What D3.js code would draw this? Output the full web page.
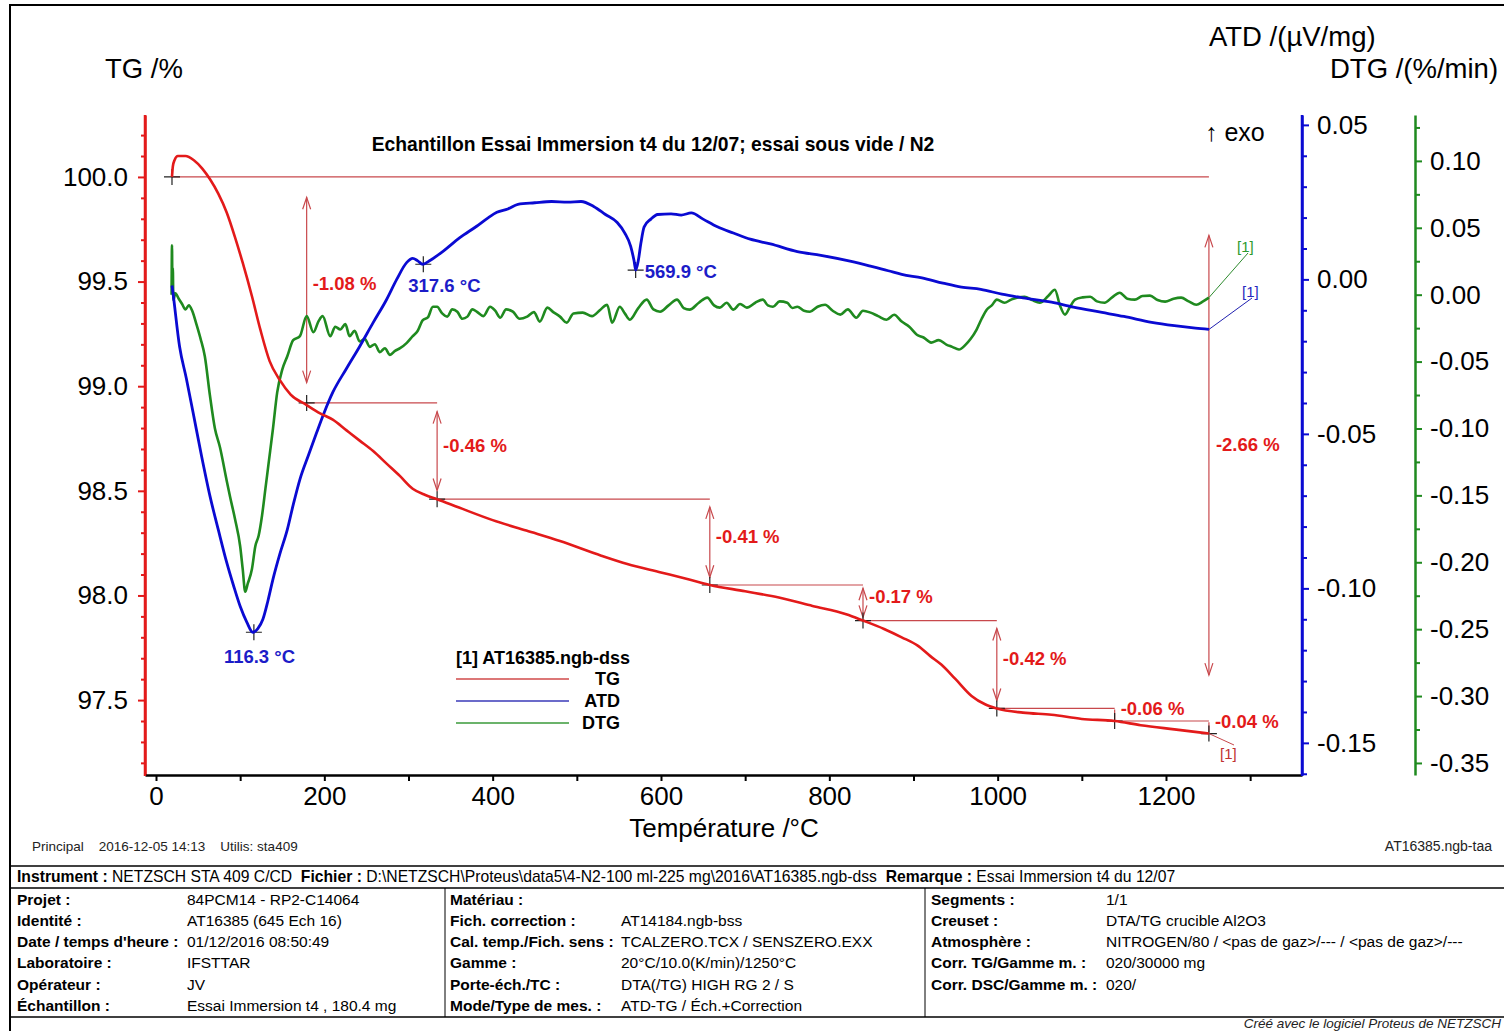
<!DOCTYPE html>
<html><head><meta charset="utf-8">
<script src="https://cdn.jsdelivr.net/npm/d3@7"></script>
<style>
body{margin:0;background:#fff}
svg{display:block}
text{font-family:"Liberation Sans",Arial,Helvetica,sans-serif}
</style></head>
<body><svg id="chart" width="1504" height="1031"></svg>
<script>
// ---------------- DATA ----------------
const tgPoints = [[19,100.00],[20,100.05],[22,100.08],[26,100.10],[35,100.10],[45,100.08],[55,100.04],[64,99.99],[74,99.92],[84,99.83],[94,99.71],[103,99.59],[114,99.43],[124,99.27],[135,99.12],[147,99.03],[160,98.96],[179,98.91],[195,98.87],[210,98.84],[226,98.79],[242,98.74],[258,98.69],[274,98.63],[290,98.57],[305,98.51],[320,98.48],[334,98.46],[360,98.42],[400,98.36],[440,98.31],[480,98.26],[529,98.19],[560,98.15],[600,98.11],[630,98.08],[658,98.05],[700,98.02],[740,97.99],[780,97.95],[820,97.91],[840,97.88],[865,97.84],[886,97.80],[905,97.76],[920,97.71],[933,97.67],[950,97.60],[969,97.52],[985,97.48],[999,97.46],[1030,97.44],[1064,97.43],[1100,97.41],[1139,97.40],[1170,97.38],[1210,97.36],[1251,97.34]];

const atdPoints = [[19,-0.002],[20,-0.004],[28,-0.0217],[36,-0.032],[44,-0.043],[54,-0.057],[64,-0.070],[74,-0.081],[84,-0.0916],[92,-0.099],[100,-0.1058],[108,-0.111],[115,-0.1142],[121,-0.113],[127,-0.110],[133,-0.104],[139,-0.097],[147,-0.089],[156,-0.081],[163,-0.073],[171,-0.0647],[181,-0.057],[191,-0.0495],[200,-0.043],[210,-0.0366],[226,-0.029],[242,-0.0217],[258,-0.014],[274,-0.0065],[286,0.000],[298,0.0055],[305,0.0068],[311,0.006],[317,0.0049],[326,0.0062],[341,0.0091],[361,0.0135],[381,0.0172],[395,0.020],[405,0.0217],[418,0.0228],[430,0.0243],[450,0.0248],[470,0.0252],[489,0.025],[505,0.0252],[520,0.0236],[534,0.021],[548,0.0184],[557,0.015],[564,0.0107],[568,0.006],[570,0.003],[573,0.006],[576,0.0115],[580,0.017],[588,0.0195],[596,0.021],[612,0.0212],[624,0.0208],[636,0.0215],[650,0.0195],[667,0.017],[686,0.015],[706,0.013],[730,0.0115],[762,0.009],[790,0.0078],[826,0.0058],[850,0.0042],[870,0.0028],[886,0.0016],[910,0.0005],[935,-0.0012],[957,-0.0025],[980,-0.0032],[1005,-0.0048],[1030,-0.006],[1064,-0.0074],[1090,-0.009],[1124,-0.0107],[1150,-0.012],[1183,-0.0139],[1210,-0.015],[1235,-0.0158],[1251,-0.0162]];

const dtgPoints = [[18.5,0.000],[19,0.037],[19.5,0.004],[20,0.020],[20.6,-0.004],[23,0.001],[27,-0.003],[31,-0.007],[35,-0.011],[39,-0.008],[43,-0.012],[48,-0.022],[53,-0.033],[58,-0.046],[64,-0.075],[70,-0.100],[76,-0.114],[84,-0.139],[88,-0.151],[94,-0.168],[100,-0.188],[103,-0.205],[106,-0.222],[109,-0.216],[114,-0.205],[118,-0.188],[122,-0.180],[126,-0.165],[130,-0.145],[134,-0.125],[139,-0.100],[144,-0.073],[150,-0.056],[156,-0.046],[163,-0.034],[171,-0.031],[179,-0.016],[187,-0.028],[193,-0.020],[198,-0.016],[207,-0.031],[213,-0.024],[219,-0.026],[225,-0.022],[230,-0.031],[236,-0.027],[242,-0.035],[248,-0.033],[254,-0.039],[260,-0.037],[266,-0.043],[272,-0.040],[278,-0.045],[284,-0.042],[290,-0.040],[298,-0.036],[305,-0.031],[311,-0.027],[317,-0.019],[323,-0.017],[329,-0.009],[334,-0.009],[340,-0.014],[346,-0.0164],[352,-0.011],[358,-0.0127],[364,-0.018],[370,-0.0164],[376,-0.011],[381,-0.0127],[389,-0.016],[397,-0.009],[403,-0.012],[409,-0.0172],[416,-0.011],[424,-0.0127],[432,-0.018],[441,-0.0164],[449,-0.013],[456,-0.0201],[465,-0.0097],[472,-0.013],[480,-0.0164],[488,-0.0209],[496,-0.014],[507,-0.0134],[518,-0.016],[528,-0.0112],[536,-0.0075],[542,-0.0209],[551,-0.009],[557,-0.014],[563,-0.0187],[573,-0.010],[583,-0.0037],[591,-0.011],[599,-0.0127],[609,-0.008],[619,-0.0037],[627,-0.010],[634,-0.0112],[645,-0.006],[655,-0.0022],[663,-0.008],[670,-0.0097],[678,-0.006],[686,-0.0112],[694,-0.007],[702,-0.0097],[712,-0.006],[721,-0.0037],[727,-0.008],[733,-0.009],[741,-0.005],[750,-0.006],[756,-0.010],[762,-0.009],[770,-0.012],[777,-0.0127],[786,-0.009],[795,-0.0075],[804,-0.012],[813,-0.0149],[822,-0.011],[832,-0.0172],[840,-0.012],[849,-0.0134],[858,-0.016],[868,-0.0187],[877,-0.015],[886,-0.0201],[895,-0.024],[904,-0.0299],[912,-0.032],[921,-0.0358],[930,-0.034],[939,-0.0373],[946,-0.039],[954,-0.041],[962,-0.0373],[968,-0.033],[975,-0.0261],[981,-0.018],[987,-0.0112],[993,-0.008],[999,-0.0037],[1008,-0.006],[1016,-0.0037],[1024,-0.002],[1032,-0.0015],[1041,-0.004],[1050,-0.006],[1060,-0.001],[1068,0.0037],[1074,-0.008],[1080,-0.0149],[1086,-0.009],[1092,-0.0037],[1101,-0.002],[1110,-0.0015],[1118,-0.005],[1127,-0.006],[1136,-0.002],[1145,0.0015],[1154,-0.003],[1163,-0.0037],[1172,-0.001],[1181,-0.0007],[1190,-0.004],[1199,-0.0052],[1209,-0.003],[1218,-0.0022],[1227,-0.005],[1236,-0.0075],[1244,-0.005],[1251,-0.0022]];

// TG mass-loss steps
const stepTemps  = [19, 179, 334, 658, 840, 999, 1139, 1251];
const stepLevels = [100.00, 98.92, 98.46, 98.05, 97.88, 97.46, 97.40, 97.34];
const stepLabels = ["-1.08 %", "-0.46 %", "-0.41 %", "-0.17 %", "-0.42 %", "-0.06 %", "-0.04 %"];
const totalLabel = "-2.66 %";

// ATD peaks
const peakTemps  = [116.3, 317.6, 569.9];
const peakValues = [-0.1142, 0.0049, 0.003];
const peakLabels = ["116.3 °C", "317.6 °C", "569.9 °C"];

// axis ticks
const xTicks = [0, 200, 400, 600, 800, 1000, 1200];
const xMinorTicks = [100, 300, 500, 700, 900, 1100, 1300];
const tgTicks = [97.5, 98.0, 98.5, 99.0, 99.5, 100.0];
const atdTicks = [-0.15, -0.10, -0.05, 0.00, 0.05];
const dtgTicks = [-0.35, -0.30, -0.25, -0.20, -0.15, -0.10, -0.05, 0.00, 0.05, 0.10];

const legendItems = ["TG", "ATD", "DTG"];

// info table
const infoRow1 = [["Instrument : ", "NETZSCH STA 409 C/CD"], ["Fichier : ", "D:\\NETZSCH\\Proteus\\data5\\4-N2-100 ml-225 mg\\2016\\AT16385.ngb-dss"], ["Remarque : ", "Essai Immersion t4 du 12/07"]];
const infoCol1 = [["Projet :", "84PCM14 - RP2-C14064"], ["Identité :", "AT16385 (645 Ech 16)"], ["Date / temps d'heure :", "01/12/2016 08:50:49"], ["Laboratoire :", "IFSTTAR"], ["Opérateur :", "JV"], ["Échantillon :", "Essai Immersion t4 , 180.4 mg"]];
const infoCol2 = [["Matériau :", ""], ["Fich. correction :", "AT14184.ngb-bss"], ["Cal. temp./Fich. sens :", "TCALZERO.TCX / SENSZERO.EXX"], ["Gamme :", "20°C/10.0(K/min)/1250°C"], ["Porte-éch./TC :", "DTA(/TG) HIGH RG 2 / S"], ["Mode/Type de mes. :", "ATD-TG / Éch.+Correction"]];
const infoCol3 = [["Segments :", "1/1"], ["Creuset :", "DTA/TG crucible Al2O3"], ["Atmosphère :", "NITROGEN/80 / <pas de gaz>/--- / <pas de gaz>/---"], ["Corr. TG/Gamme m. :", "020/30000 mg"], ["Corr. DSC/Gamme m. :", "020/"]];

// ---------------- DRAW ----------------
const svg = d3.select("#chart");
const RED = "#e31a1a", BLUE = "#0a0ad2", GREEN = "#1f8a1f", ANN = "#c8484c";
const fmt2 = v => d3.format(".2f")(v).replace("−", "-");

const x = d3.scaleLinear().domain([-13.07, 1361.6]).range([145, 1302]);
const yTG = d3.scaleLinear().domain([97.142, 100.296]).range([775, 115]);
const yATD = d3.scaleLinear().domain([-0.1604, 0.0532]).range([775, 115]);
const yDTG = d3.scaleLinear().domain([-0.359, 0.1343]).range([775, 115]);

// frame
svg.append("rect").attr("x", 10).attr("y", 5).attr("width", 1510).attr("height", 1040)
  .attr("fill", "none").attr("stroke", "#000").attr("stroke-width", 2);

// header titles
svg.append("text").attr("x", 105).attr("y", 78).attr("font-size", 27.5).text("TG /%");
svg.append("text").attr("x", 1209).attr("y", 46).attr("font-size", 27.5).text("ATD /(µV/mg)");
svg.append("text").attr("x", 1330).attr("y", 78).attr("font-size", 27.5).text("DTG /(%/min)");
svg.append("text").attr("x", 653).attr("y", 151).attr("text-anchor", "middle")
  .attr("font-size", 19.3).attr("font-weight", "bold")
  .text("Echantillon Essai Immersion t4 du 12/07; essai sous vide / N2");
svg.append("text").attr("x", 1205).attr("y", 141).attr("font-size", 25).text("↑ exo");

// axes
function styleAxis(g, color) {
  g.selectAll("path").attr("stroke", color).attr("stroke-width", 2.5);
  g.selectAll("line").attr("stroke", color).attr("stroke-width", 2);
  g.selectAll("text").attr("fill", "#000").attr("font-size", 26)
    .attr("font-family", '"Liberation Sans",Arial,sans-serif');
}
const gTG = svg.append("g").attr("transform", "translate(145,0)")
  .call(d3.axisLeft(yTG).tickValues(tgTicks).tickFormat(d3.format(".1f")).tickSize(7).tickSizeOuter(0).tickPadding(10));
styleAxis(gTG, RED);
svg.append("g").attr("transform", "translate(145,0)")
  .call(d3.axisLeft(yTG).tickValues(d3.range(97.2, 100.25, 0.1).filter(v => Math.abs(v*2 - Math.round(v*2)) > 0.01))
    .tickFormat("").tickSize(4).tickSizeOuter(0))
  .call(g => { g.select("path").remove(); g.selectAll("line").attr("stroke", RED).attr("stroke-width", 2); });

const gATD = svg.append("g").attr("transform", "translate(1302,0)")
  .call(d3.axisRight(yATD).tickValues(atdTicks).tickFormat(fmt2).tickSize(7).tickSizeOuter(0).tickPadding(8));
styleAxis(gATD, BLUE);
svg.append("g").attr("transform", "translate(1302,0)")
  .call(d3.axisRight(yATD).tickValues(d3.range(-0.16, 0.053, 0.01).filter(v => Math.abs(v*20 - Math.round(v*20)) > 0.01))
    .tickFormat("").tickSize(5).tickSizeOuter(0))
  .call(g => { g.select("path").remove(); g.selectAll("line").attr("stroke", BLUE).attr("stroke-width", 2); });

const gDTG = svg.append("g").attr("transform", "translate(1415,0)")
  .call(d3.axisRight(yDTG).tickValues(dtgTicks).tickFormat(fmt2).tickSize(7).tickSizeOuter(0).tickPadding(8));
styleAxis(gDTG, GREEN);
svg.append("g").attr("transform", "translate(1415,0)")
  .call(d3.axisRight(yDTG).tickValues(d3.range(-0.325, 0.13, 0.05)).tickFormat("").tickSize(5).tickSizeOuter(0))
  .call(g => { g.select("path").remove(); g.selectAll("line").attr("stroke", GREEN).attr("stroke-width", 2); });

const gX = svg.append("g").attr("transform", "translate(0,775)")
  .call(d3.axisBottom(x).tickValues(xTicks).tickFormat(d3.format("d")).tickSize(6).tickSizeOuter(0).tickPadding(6));
styleAxis(gX, "#000");
svg.append("g").attr("transform", "translate(0,775)")
  .call(d3.axisBottom(x).tickValues(xMinorTicks).tickFormat("").tickSize(6).tickSizeOuter(0))
  .call(g => { g.select("path").remove(); g.selectAll("line").attr("stroke", "#000").attr("stroke-width", 2); });
svg.append("text").attr("x", 724).attr("y", 837).attr("text-anchor", "middle").attr("font-size", 26)
  .text("Température /°C");

svg.append("line").attr("x1", 145).attr("x2", 145).attr("y1", 115).attr("y2", 776).attr("stroke", RED).attr("stroke-width", 2.5);
svg.append("line").attr("x1", 1302).attr("x2", 1302).attr("y1", 115).attr("y2", 776).attr("stroke", BLUE).attr("stroke-width", 2.5);

// ---- annotations (TG steps)
const ann = svg.append("g");
function arrow(xp, y1, y2) {
  ann.append("line").attr("x1", xp).attr("x2", xp).attr("y1", y1).attr("y2", y2).attr("stroke", ANN).attr("stroke-width", 1.2);
  if (Math.abs(y2 - y1) < 18) return;
  const dir = y2 > y1 ? 1 : -1;
  [[y1, -dir], [y2, dir]].forEach(([yy, d]) => {
    ann.append("path").attr("d", `M${xp-4},${yy - d*12} L${xp},${yy} L${xp+4},${yy - d*12}`)
      .attr("fill", "none").attr("stroke", ANN).attr("stroke-width", 1.2);
  });
}
function cross(cx, cy) {
  ann.append("path").attr("d", `M${cx-8},${cy} H${cx+8} M${cx},${cy-8} V${cy+8}`)
    .attr("stroke", "#222").attr("stroke-width", 1.2);
}
ann.append("line").attr("x1", x(stepTemps[0])).attr("x2", x(stepTemps[7]))
  .attr("y1", yTG(stepLevels[0])).attr("y2", yTG(stepLevels[0])).attr("stroke", ANN).attr("stroke-width", 1.2);
for (let i = 1; i < stepTemps.length - 1; i++) {
  ann.append("line").attr("x1", x(stepTemps[i])).attr("x2", x(stepTemps[i+1]))
    .attr("y1", yTG(stepLevels[i])).attr("y2", yTG(stepLevels[i])).attr("stroke", ANN).attr("stroke-width", 1.2);
}
for (let i = 1; i < stepTemps.length; i++) {
  const xp = x(stepTemps[i]), ya = yTG(stepLevels[i-1]), yb = yTG(stepLevels[i]);
  const inset = (yb - ya) * 0.09;
  arrow(xp, ya + inset, yb - inset);
  ann.append("text").attr("x", xp + 6).attr("y", (ya + yb) / 2 - 6).attr("dy", "0.35em")
    .attr("font-size", 18.5).attr("font-weight", "bold").attr("fill", RED).text(stepLabels[i-1]);
}
{
  const xp = x(stepTemps[7]), ya = yTG(stepLevels[0]), yb = yTG(stepLevels[7]);
  const inset = (yb - ya) * 0.105;
  arrow(xp, ya + inset, yb - inset);
  ann.append("text").attr("x", xp + 7).attr("y", (ya + yb) / 2 - 11).attr("dy", "0.35em")
    .attr("font-size", 18.5).attr("font-weight", "bold").attr("fill", RED).text(totalLabel);
}

// ---- curves
const lineTG = d3.line().x(d => x(d[0])).y(d => yTG(d[1])).curve(d3.curveMonotoneX);
const lineATD = d3.line().x(d => x(d[0])).y(d => yATD(d[1])).curve(d3.curveMonotoneX);
const lineDTG = d3.line().x(d => x(d[0])).y(d => yDTG(d[1])).curve(d3.curveMonotoneX);
svg.append("path").datum(dtgPoints).attr("d", lineDTG).attr("fill", "none").attr("stroke", GREEN).attr("stroke-width", 2.6);
svg.append("path").datum(atdPoints).attr("d", lineATD).attr("fill", "none").attr("stroke", BLUE).attr("stroke-width", 2.8);
svg.append("path").datum(tgPoints).attr("d", lineTG).attr("fill", "none").attr("stroke", RED).attr("stroke-width", 2.6);

stepTemps.forEach((t, i) => cross(x(t), yTG(stepLevels[i])));

peakTemps.forEach((t, i) => cross(x(t), yATD(peakValues[i])));
const peakLabelPos = [[-30, 24], [-15, 21], [9, 1]];
peakTemps.forEach((t, i) => {
  svg.append("text").attr("x", x(t) + peakLabelPos[i][0]).attr("y", yATD(peakValues[i]) + peakLabelPos[i][1]).attr("dy", "0.35em")
    .attr("font-size", 18.5).attr("font-weight", "bold").attr("fill", "#1c1cc8").text(peakLabels[i]);
});

// [1] end markers
const endT = 1251;
function endTag(px, py, lx, ly, lineColor) {
  svg.append("line").attr("x1", px).attr("y1", py).attr("x2", lx).attr("y2", ly).attr("stroke", lineColor).attr("stroke-width", 1);
}
endTag(x(endT), yDTG(dtgPoints[dtgPoints.length-1][1]), 1248, 253, "#2e8b2e");
svg.append("text").attr("x", 1237).attr("y", 252).attr("font-size", 15).attr("fill", "#2e9a2e").text("[1]");
endTag(x(endT), yATD(atdPoints[atdPoints.length-1][1]), 1252, 298, "#2020b0");
svg.append("text").attr("x", 1242).attr("y", 297).attr("font-size", 15).attr("fill", "#2828c0").text("[1]");
endTag(x(endT), yTG(tgPoints[tgPoints.length-1][1]), 1234, 745, ANN);
svg.append("text").attr("x", 1220).attr("y", 759).attr("font-size", 15).attr("fill", "#c03030").text("[1]");

// legend
svg.append("text").attr("x", 456).attr("y", 664).attr("font-size", 18).attr("font-weight", "bold").text("[1] AT16385.ngb-dss");
const legColors = ["#d04a4a", "#3a3ab8", "#3a9a3a"];
legendItems.forEach((name, i) => {
  const yy = 679 + i * 22;
  svg.append("line").attr("x1", 456).attr("x2", 569).attr("y1", yy).attr("y2", yy).attr("stroke", legColors[i]).attr("stroke-width", 1.3);
  svg.append("text").attr("x", 620).attr("y", yy).attr("dy", "0.35em").attr("text-anchor", "end")
    .attr("font-size", 18).attr("font-weight", "bold").text(name);
});

// footer info
svg.append("text").attr("x", 32).attr("y", 851).attr("font-size", 13.5).attr("fill", "#222")
  .attr("xml:space", "preserve").text("Principal    2016-12-05 14:13    Utilis: sta409");
svg.append("text").attr("x", 1492).attr("y", 851).attr("font-size", 14).attr("fill", "#222").attr("text-anchor", "end").text("AT16385.ngb-taa");

const tbl = svg.append("g");
[866, 888, 1017].forEach(yy => tbl.append("line").attr("x1", 10).attr("x2", 1504).attr("y1", yy).attr("y2", yy).attr("stroke", "#000").attr("stroke-width", 1.5));
[445, 925].forEach(xx => tbl.append("line").attr("x1", xx).attr("x2", xx).attr("y1", 888).attr("y2", 1017).attr("stroke", "#000").attr("stroke-width", 1));

const r1 = tbl.append("text").attr("x", 17).attr("y", 882).attr("font-size", 15.7).attr("xml:space", "preserve");
infoRow1.forEach(([k, v], i) => {
  r1.append("tspan").attr("font-weight", "bold").text((i ? "  " : "") + k);
  r1.append("tspan").text(v);
});
function infoCol(rows, lx, vx) {
  rows.forEach(([k, v], i) => {
    const yy = 904.5 + i * 21.3;
    tbl.append("text").attr("x", lx).attr("y", yy).attr("font-size", 15.5).attr("font-weight", "bold").text(k);
    tbl.append("text").attr("x", vx).attr("y", yy).attr("font-size", 15.5).text(v);
  });
}
infoCol(infoCol1, 17, 187);
infoCol(infoCol2, 450, 621);
infoCol(infoCol3, 931, 1106);

svg.append("text").attr("x", 1501).attr("y", 1028).attr("text-anchor", "end").attr("font-size", 13.5)
  .attr("font-style", "italic").attr("fill", "#222").text("Créé avec le logiciel Proteus de NETZSCH");
</script></body></html>
